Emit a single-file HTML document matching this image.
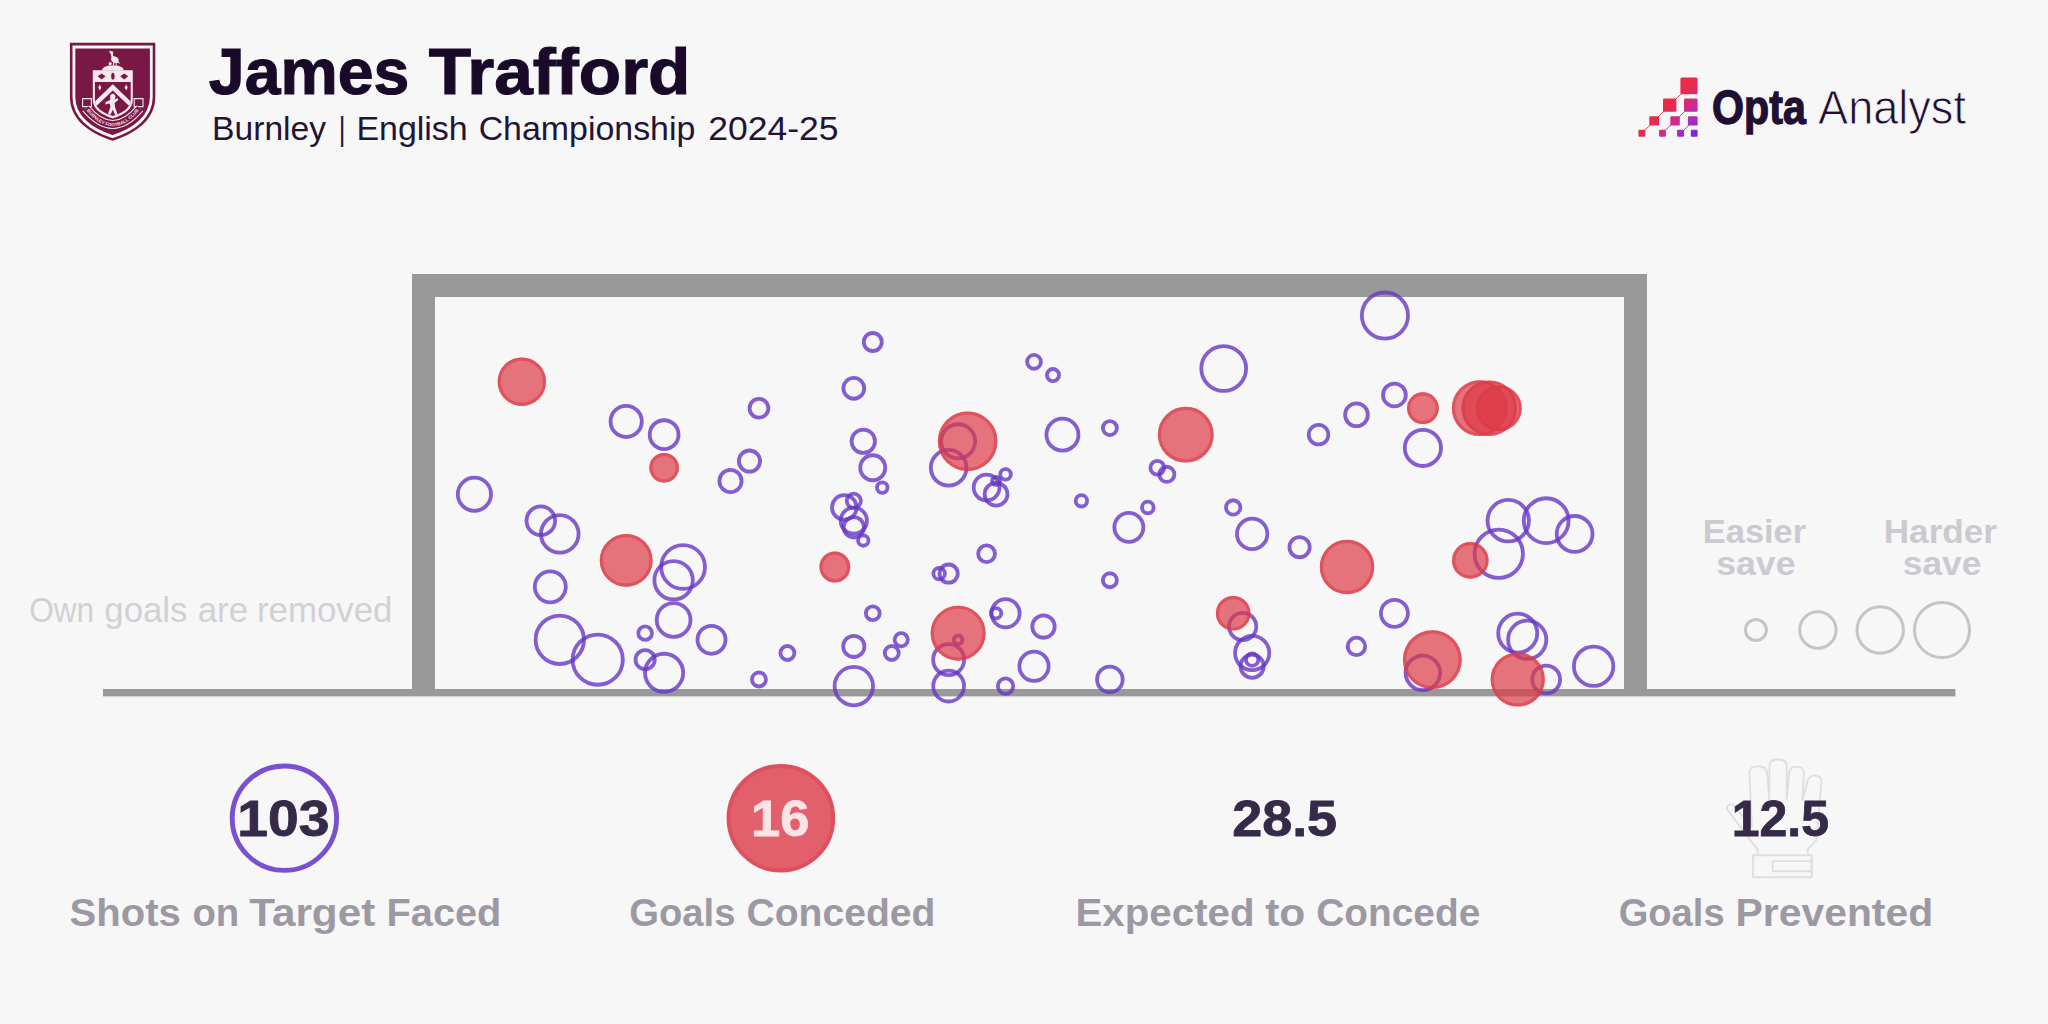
<!DOCTYPE html>
<html lang="en">
<head>
<meta charset="utf-8">
<title>James Trafford - Goalkeeping 2024-25</title>
<style>
  html, body { margin: 0; padding: 0; background: #f7f7f7; }
  body { width: 2048px; height: 1024px; overflow: hidden; }
  svg { display: block; }
  text { font-family: "Liberation Sans", sans-serif; }
  .b { font-weight: 700; }
  .saves circle { fill: none; stroke: #6636c6; stroke-opacity: 0.8; stroke-width: 3.8; }
  .goals circle { fill: #dd3a47; fill-opacity: 0.7; stroke: none; }
  .goals circle.r { fill: none; stroke: #dd3a47; stroke-opacity: 0.58; stroke-width: 3.2; }
  .leg circle { fill: none; stroke: #c5c5c5; stroke-width: 3; }
  .lab { font-weight: 700; font-size: 39px; fill: #9d99a4; }
  .num { font-weight: 700; font-size: 49.5px; fill: #362a49; stroke: #362a49; stroke-width: 0.8; }
</style>
</head>
<body>
<svg width="2048" height="1024" viewBox="0 0 2048 1024">
  <rect width="2048" height="1024" fill="#f7f7f7"/>

  <!-- ===== Club crest ===== -->
  <g id="crest">
    <defs>
      <clipPath id="armsclip"><path d="M94.9,82 H130.7 V100 C130.7,107.6 123,113 112.8,116 C102.6,113 94.9,107.6 94.9,100 Z"/></clipPath>
      <path id="ribbon" d="M85.8,108.4 Q112.8,140.6 139.8,108.4"/>
      <path id="ribbontext" d="M86.6,110.4 Q112.8,142.2 139,110.4"/>
    </defs>
    <path d="M69.9,42.7 H155.3 V97 C155.3,119 137,133 112.6,140.8 C88.2,133 69.9,119 69.9,97 Z" fill="#7a1845"/>
    <path d="M73.9,47 H151.3 V97 C151.3,116.4 135,129.4 112.6,136.6 C90.2,129.4 73.9,116.4 73.9,97 Z" fill="none" stroke="#f7f7f7" stroke-width="2.8"/>
    <!-- stork on mound -->
    <path d="M101.4,70.6 L103.8,67.2 L108.5,65.4 H117.5 L122,67.2 L124.4,70.6 Z" fill="#f6e9ee"/>
    <g fill="#f6e9ee" stroke="none">
      <circle cx="111.6" cy="52.4" r="1.5"/>
      <path d="M110.6,50.4 L108.6,52.2 L110.8,52.6 Z"/>
      <path d="M110.6,53 C111.4,55.4 111,57 112,58.4 L113.6,57 C112.8,55.6 113.2,54 112.6,52.6 Z"/>
      <ellipse cx="114.9" cy="59.6" rx="3.9" ry="3" transform="rotate(28 114.9 59.6)"/>
      <path d="M117.4,60.6 L120.4,63.8 L116.6,62.6 Z"/>
      <path d="M113.4,61.6 L112.8,65.8 H113.8 L114.6,62 Z M115.4,62 L115.8,65.8 H116.8 L116.4,62 Z"/>
      <circle cx="110.2" cy="63.6" r="1.6"/>
    </g>
    <!-- coat of arms -->
    <path d="M92.8,70.2 H132.8 V100 C132.8,109 124,115 112.8,118.4 C101.6,115 92.8,109 92.8,100 Z" fill="#f6e9ee"/>
    <path d="M94.9,82 H130.7 V100 C130.7,107.6 123,113 112.8,116 C102.6,113 94.9,107.6 94.9,100 Z" fill="#7a1845"/>
    <g clip-path="url(#armsclip)" fill="#f6e9ee">
      <path d="M112.8,84.2 L133,103.6 V109.6 L112.8,90.4 L92.6,109.6 V103.6 Z"/>
    </g>
    <path d="M99.8,84.6 L101.3,87.6 L99.8,90.6 L98.3,87.6 Z M126.2,84.6 L127.7,87.6 L126.2,90.6 L124.7,87.6 Z" fill="#f6e9ee"/>
    <!-- bees and hand in chief -->
    <g fill="#7a1845">
      <path d="M97.6,76.2 L101.6,73.4 L105.6,76.2 L101.6,79.4 Z"/>
      <path d="M120.2,76.2 L124.2,73.4 L128.2,76.2 L124.2,79.4 Z"/>
      <ellipse cx="112.9" cy="76.2" rx="1.7" ry="3.4"/>
    </g>
    <!-- lion rampant -->
    <path d="M110.2,95.1 L113.4,93.4 L115.6,95.9 L114.8,99.6 L117.6,98.1 L118.2,100.1 L114.6,103.1 L115.2,107.8 L117.6,114.2 L115.2,115.0 L112.8,109.8 L110.4,114.7 L108.0,114.0 L110.4,107.0 L109.8,103.6 L105.6,104.6 L105.2,102.3 L110.2,100.1 Z" fill="#f6e9ee"/>
    <!-- ribbon -->
    <path d="M82.6,98.6 h8.8 v8 h-8.8 Z M134.2,98.6 h8.8 v8 h-8.8 Z" fill="#7a1845" stroke="#f6e9ee" stroke-width="1.1"/>
    <use href="#ribbon" fill="none" stroke="#f6e9ee" stroke-width="8.8"/>
    <use href="#ribbon" fill="none" stroke="#7a1845" stroke-width="6.8"/>
    <text font-size="4.5" font-weight="700" fill="#f6e9ee" letter-spacing="0.1"><textPath href="#ribbontext" startOffset="50%" text-anchor="middle">BURNLEY FOOTBALL CLUB</textPath></text>
  </g>

  <!-- ===== Header text ===== -->
  <text y="93.9" class="b" font-size="65.4" fill="#180a28" stroke="#180a28" stroke-width="1.1"><tspan x="208.85" textLength="200.43" lengthAdjust="spacingAndGlyphs">James</tspan> <tspan x="428.75" textLength="261.68" lengthAdjust="spacingAndGlyphs">Trafford</tspan></text>
  <text y="139.6" font-size="32.4" fill="#221434"><tspan x="212.02" textLength="114.14" lengthAdjust="spacingAndGlyphs">Burnley</tspan> <tspan x="338.7" textLength="6.73" lengthAdjust="spacingAndGlyphs">|</tspan> <tspan x="356.4" textLength="111.31" lengthAdjust="spacingAndGlyphs">English</tspan> <tspan x="478.65" textLength="216.71" lengthAdjust="spacingAndGlyphs">Championship</tspan> <tspan x="708.2" textLength="130.31" lengthAdjust="spacingAndGlyphs">2024-25</tspan></text>

  <!-- ===== Opta Analyst logo ===== -->
  <g id="opta">
    <defs>
      <linearGradient id="og" gradientUnits="userSpaceOnUse" x1="1660" y1="115" x2="1687.5" y2="142.5">
        <stop offset="0" stop-color="#e92b47"/>
        <stop offset="0.36" stop-color="#d22a88"/>
        <stop offset="0.7" stop-color="#a62cc8"/>
        <stop offset="1" stop-color="#7427dc"/>
      </linearGradient>
    </defs>
    <g fill="url(#og)" stroke="url(#og)" stroke-width="0.9">
      <rect x="1680.4" y="77.6" width="17.2" height="16.6" rx="1.5" stroke="none"/>
      <rect x="1663" y="98.6" width="13.4" height="13.2" rx="1.3" stroke="none"/>
      <rect x="1684" y="98.6" width="13.6" height="13.2" rx="1.3" stroke="none"/>
      <rect x="1649.3" y="116.2" width="9.8" height="9.4" rx="1.2" stroke="none"/>
      <rect x="1670.3" y="116.2" width="9.5" height="9.4" rx="1.2" stroke="none"/>
      <rect x="1687.9" y="116.2" width="9.7" height="9.4" rx="1.2" stroke="none"/>
      <rect x="1638.4" y="129.8" width="7" height="6.9" rx="1" stroke="none"/>
      <rect x="1659.1" y="129.8" width="6.8" height="6.9" rx="1" stroke="none"/>
      <rect x="1677.1" y="129.8" width="6.9" height="6.9" rx="1" stroke="none"/>
      <rect x="1690.8" y="129.8" width="6.8" height="6.9" rx="1" stroke="none"/>
      <path d="M1644,131 L1651,124 M1657.5,117.5 L1665,110 M1675,100 L1682,93 M1664.5,131 L1672,124 M1678.5,117.5 L1686,110 M1683,131 L1690,124" fill="none"/>
    </g>
  <text y="124.4" class="b" font-size="48.5" fill="#1e0f33" stroke="#1e0f33" stroke-width="1.3"><tspan x="1712.1" textLength="93.68" lengthAdjust="spacingAndGlyphs">Opta</tspan></text>
  <text y="124.4" font-size="48.5" fill="#1e0f33" stroke="#f7f7f7" stroke-width="0.9"><tspan x="1818.05" textLength="147.91" lengthAdjust="spacingAndGlyphs">Analyst</tspan></text>
  </g>

  <!-- ===== Goal frame and ground ===== -->
  <path d="M412,274 H1647 V692 H1624 V297 H435 V692 H412 Z" fill="#999999"/>
  <rect x="103" y="689" width="1852.4" height="7.4" fill="#999999"/>

  <!-- ===== Side notes ===== -->
  <text y="621.9" font-size="35" fill="#d1d0d5"><tspan x="29.2" textLength="64.92" lengthAdjust="spacingAndGlyphs">Own</tspan> <tspan x="104.31" textLength="83.09" lengthAdjust="spacingAndGlyphs">goals</tspan> <tspan x="197.7" textLength="50.35" lengthAdjust="spacingAndGlyphs">are</tspan> <tspan x="256.91" textLength="135.55" lengthAdjust="spacingAndGlyphs">removed</tspan></text>

  <text y="542.8" class="b" font-size="33.5" fill="#cbcad0"><tspan x="1702.85" textLength="103.19" lengthAdjust="spacingAndGlyphs">Easier</tspan></text>
  <text y="574.9" class="b" font-size="33.5" fill="#cbcad0"><tspan x="1716.24" textLength="79.23" lengthAdjust="spacingAndGlyphs">save</tspan></text>
  <text y="542.8" class="b" font-size="33.5" fill="#cbcad0"><tspan x="1883.7" textLength="113.34" lengthAdjust="spacingAndGlyphs">Harder</tspan></text>
  <text y="574.9" class="b" font-size="33.5" fill="#cbcad0"><tspan x="1902.74" textLength="78.72" lengthAdjust="spacingAndGlyphs">save</tspan></text>
  <g class="leg">
    <circle cx="1755.9" cy="630" r="10.5"/>
    <circle cx="1817.9" cy="630" r="18.2"/>
    <circle cx="1880.2" cy="630" r="23.2"/>
    <circle cx="1942" cy="630" r="27.5"/>
  </g>

  <!-- ===== Shots: saves (purple rings) ===== -->
  <g class="saves">
<circle cx="626.17" cy="421.42" r="15.60"/>
<circle cx="664.11" cy="434.65" r="14.40"/>
<circle cx="758.95" cy="408.19" r="9.40"/>
<circle cx="749.47" cy="461.12" r="10.60"/>
<circle cx="730.5" cy="480.97" r="11.10"/>
<circle cx="872.77" cy="342.02" r="9.00"/>
<circle cx="853.8" cy="388.34" r="10.40"/>
<circle cx="863.28" cy="441.27" r="11.70"/>
<circle cx="872.77" cy="467.74" r="12.50"/>
<circle cx="1034.01" cy="361.87" r="6.90"/>
<circle cx="1052.98" cy="375.1" r="6.10"/>
<circle cx="1223.7" cy="368.48" r="22.40"/>
<circle cx="958.13" cy="441.27" r="17.00"/>
<circle cx="948.65" cy="467.74" r="17.80"/>
<circle cx="1062.46" cy="434.65" r="16.00"/>
<circle cx="1109.88" cy="428.04" r="7.00"/>
<circle cx="1157.31" cy="467.74" r="6.90"/>
<circle cx="1166.79" cy="474.36" r="7.60"/>
<circle cx="1005.55" cy="474.36" r="5.30"/>
<circle cx="996.07" cy="480.97" r="4.00"/>
<circle cx="986.58" cy="487.59" r="12.90"/>
<circle cx="996.07" cy="494.21" r="11.40"/>
<circle cx="1384.94" cy="315.55" r="23.10"/>
<circle cx="1394.42" cy="394.95" r="11.40"/>
<circle cx="1356.48" cy="414.8" r="11.40"/>
<circle cx="1318.55" cy="434.65" r="9.80"/>
<circle cx="1422.88" cy="447.89" r="18.10"/>
<circle cx="474.42" cy="494.21" r="16.60"/>
<circle cx="540.81" cy="520.67" r="14.30"/>
<circle cx="559.78" cy="533.91" r="18.80"/>
<circle cx="550.29" cy="586.85" r="15.50"/>
<circle cx="683.08" cy="566.99" r="21.90"/>
<circle cx="673.59" cy="580.23" r="19.20"/>
<circle cx="673.59" cy="619.93" r="16.90"/>
<circle cx="559.78" cy="639.78" r="24.20"/>
<circle cx="597.72" cy="659.63" r="25.10"/>
<circle cx="645.14" cy="633.16" r="6.80"/>
<circle cx="711.53" cy="639.78" r="14.00"/>
<circle cx="645.14" cy="659.63" r="9.60"/>
<circle cx="664.11" cy="672.87" r="19.10"/>
<circle cx="787.41" cy="653.01" r="7.00"/>
<circle cx="758.95" cy="679.48" r="7.00"/>
<circle cx="882.25" cy="487.59" r="5.30"/>
<circle cx="844.32" cy="507.44" r="12.30"/>
<circle cx="853.8" cy="500.82" r="7.10"/>
<circle cx="853.8" cy="520.67" r="13.10"/>
<circle cx="853.8" cy="527.29" r="10.20"/>
<circle cx="863.28" cy="540.53" r="5.20"/>
<circle cx="1081.43" cy="500.82" r="5.70"/>
<circle cx="1147.82" cy="507.44" r="5.80"/>
<circle cx="1128.85" cy="527.29" r="14.50"/>
<circle cx="1233.18" cy="507.44" r="7.20"/>
<circle cx="986.58" cy="553.76" r="8.40"/>
<circle cx="939.16" cy="573.61" r="5.80"/>
<circle cx="948.65" cy="573.61" r="9.10"/>
<circle cx="1109.88" cy="580.23" r="7.00"/>
<circle cx="872.77" cy="613.31" r="6.90"/>
<circle cx="958.13" cy="639.78" r="4.30"/>
<circle cx="948.65" cy="659.63" r="15.50"/>
<circle cx="1005.55" cy="613.31" r="14.10"/>
<circle cx="996.07" cy="613.31" r="5.10"/>
<circle cx="1043.49" cy="626.55" r="11.20"/>
<circle cx="853.8" cy="646.4" r="10.60"/>
<circle cx="901.22" cy="639.78" r="6.60"/>
<circle cx="891.74" cy="653.01" r="7.00"/>
<circle cx="1034.01" cy="666.25" r="14.60"/>
<circle cx="853.8" cy="686.1" r="19.20"/>
<circle cx="948.65" cy="686.1" r="15.40"/>
<circle cx="1109.88" cy="679.48" r="12.80"/>
<circle cx="1005.55" cy="686.1" r="7.70"/>
<circle cx="1252.15" cy="533.91" r="15.20"/>
<circle cx="1299.58" cy="547.14" r="10.10"/>
<circle cx="1498.75" cy="553.76" r="24.20"/>
<circle cx="1508.24" cy="520.67" r="20.70"/>
<circle cx="1546.18" cy="520.67" r="22.40"/>
<circle cx="1574.63" cy="533.91" r="17.90"/>
<circle cx="1394.42" cy="613.31" r="13.50"/>
<circle cx="1356.48" cy="646.4" r="8.70"/>
<circle cx="1422.88" cy="672.87" r="17.30"/>
<circle cx="1517.72" cy="633.16" r="19.50"/>
<circle cx="1527.21" cy="639.78" r="19.10"/>
<circle cx="1593.6" cy="666.25" r="19.70"/>
<circle cx="1546.18" cy="679.48" r="13.90"/>
<circle cx="1242.67" cy="626.55" r="13.60"/>
<circle cx="1252.15" cy="653.01" r="17.10"/>
<circle cx="1252.15" cy="659.63" r="6.20"/>
<circle cx="1252.15" cy="666.25" r="11.60"/>
  </g>
  <!-- ===== Shots: goals (red discs) ===== -->
  <g class="goals">
<circle cx="521.84" cy="381.72" r="24.20"/><circle class="r" cx="521.84" cy="381.72" r="22.60"/>
<circle cx="664.11" cy="467.74" r="14.80"/><circle class="r" cx="664.11" cy="467.74" r="13.20"/>
<circle cx="967.62" cy="441.27" r="29.80"/><circle class="r" cx="967.62" cy="441.27" r="28.20"/>
<circle cx="1185.76" cy="434.65" r="27.90"/><circle class="r" cx="1185.76" cy="434.65" r="26.30"/>
<circle cx="1422.88" cy="408.19" r="15.90"/><circle class="r" cx="1422.88" cy="408.19" r="14.30"/>
<circle cx="1479.78" cy="408.19" r="27.90"/><circle class="r" cx="1479.78" cy="408.19" r="26.30"/>
<circle cx="1489.27" cy="408.19" r="27.80"/><circle class="r" cx="1489.27" cy="408.19" r="26.20"/>
<circle cx="1498.75" cy="408.19" r="23.00"/><circle class="r" cx="1498.75" cy="408.19" r="21.40"/>
<circle cx="626.17" cy="560.38" r="26.40"/><circle class="r" cx="626.17" cy="560.38" r="24.80"/>
<circle cx="834.83" cy="566.99" r="15.40"/><circle class="r" cx="834.83" cy="566.99" r="13.80"/>
<circle cx="958.13" cy="633.16" r="27.50"/><circle class="r" cx="958.13" cy="633.16" r="25.90"/>
<circle cx="1233.18" cy="613.31" r="17.30"/><circle class="r" cx="1233.18" cy="613.31" r="15.70"/>
<circle cx="1347.0" cy="566.99" r="27.20"/><circle class="r" cx="1347.0" cy="566.99" r="25.60"/>
<circle cx="1470.3" cy="560.38" r="18.30"/><circle class="r" cx="1470.3" cy="560.38" r="16.70"/>
<circle cx="1432.36" cy="659.63" r="29.40"/><circle class="r" cx="1432.36" cy="659.63" r="27.80"/>
<circle cx="1517.72" cy="679.48" r="27.10"/><circle class="r" cx="1517.72" cy="679.48" r="25.50"/>
  </g>

  <!-- ===== Bottom stats ===== -->
  <circle cx="284.4" cy="818.2" r="52.2" fill="none" stroke="#7a4fd0" stroke-width="4.9"/>
  <text y="835.6" class="num"><tspan x="237.25" textLength="92.15" lengthAdjust="spacingAndGlyphs">103</tspan></text>
  <text y="926.2" class="lab"><tspan x="69.57" textLength="111.24" lengthAdjust="spacingAndGlyphs">Shots</tspan> <tspan x="192.42" textLength="46.88" lengthAdjust="spacingAndGlyphs">on</tspan> <tspan x="249.2" textLength="126.09" lengthAdjust="spacingAndGlyphs">Target</tspan> <tspan x="386.56" textLength="114.79" lengthAdjust="spacingAndGlyphs">Faced</tspan></text>

  <circle cx="780.9" cy="818.2" r="52.3" fill="#e2606b" stroke="#df505e" stroke-width="4"/>
  <text y="835.8" class="num" style="fill:#fbe3e6;stroke:#fbe3e6"><tspan x="751.02" textLength="58.4" lengthAdjust="spacingAndGlyphs">16</tspan></text>
  <text y="926.2" class="lab"><tspan x="629.32" textLength="106.16" lengthAdjust="spacingAndGlyphs">Goals</tspan> <tspan x="746.5" textLength="188.93" lengthAdjust="spacingAndGlyphs">Conceded</tspan></text>

  <text y="835.6" class="num"><tspan x="1232.21" textLength="104.86" lengthAdjust="spacingAndGlyphs">28.5</tspan></text>
  <text y="926.2" class="lab"><tspan x="1075.53" textLength="179.05" lengthAdjust="spacingAndGlyphs">Expected</tspan> <tspan x="1265.2" textLength="40.2" lengthAdjust="spacingAndGlyphs">to</tspan> <tspan x="1316.2" textLength="164.08" lengthAdjust="spacingAndGlyphs">Concede</tspan></text>

  <g id="glove" fill="none" stroke="#dfdfdf" stroke-width="1.9" stroke-linejoin="round" stroke-linecap="round">
    <path d="M1757.8,855.3 V849.4 L1751.6,841.6 L1727.6,810 C1725.8,807 1729,803.4 1733,804.6 L1751.9,827 L1749.4,773 C1749.2,768 1753,766.4 1758,766.4 C1763,766.4 1766.6,768 1767,773 L1769.2,799 L1769.5,766 C1769.5,761.5 1773,759.5 1778,759.5 C1783,759.5 1786.7,761.5 1786.7,766 V799 L1789.3,772.4 C1789.8,768.2 1793,766.4 1797,766.6 C1801,766.8 1804.2,769 1803.9,773 L1802.5,800 L1807.5,781.4 C1808.5,777.2 1812,775 1816,775.6 C1820,776.3 1822,779 1821.3,783 L1816.4,840 L1807.8,849.4 V855.3"/>
    <rect x="1753.1" y="855.3" width="58.6" height="21.9"/>
    <rect x="1772.7" y="861.1" width="39" height="10.2"/>
  </g>
  <text y="835.6" class="num"><tspan x="1731.77" textLength="97.26" lengthAdjust="spacingAndGlyphs">12.5</tspan></text>
  <text y="926.2" class="lab"><tspan x="1618.72" textLength="105.85" lengthAdjust="spacingAndGlyphs">Goals</tspan> <tspan x="1735.5" textLength="197.71" lengthAdjust="spacingAndGlyphs">Prevented</tspan></text>
</svg>
</body>
</html>
